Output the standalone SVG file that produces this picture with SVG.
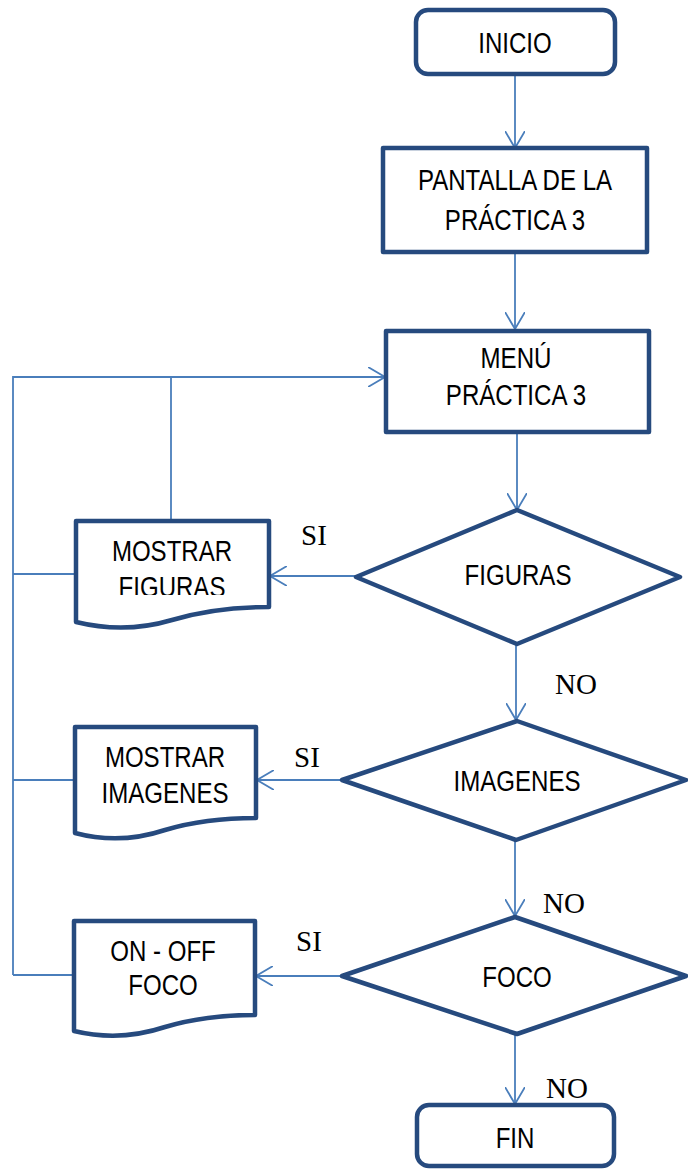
<svg xmlns="http://www.w3.org/2000/svg" width="688" height="1169" viewBox="0 0 688 1169">
  <style>
    .node { fill: #ffffff; stroke: #264a7e; stroke-width: 4.5; stroke-linejoin: round; }
    /* narrow sans: Liberation Sans squeezed horizontally */
    .lbl { font-family: "Liberation Sans", Arial, sans-serif; font-size: 29px; fill: #000000; text-anchor: middle; }
    .tag { font-family: "Liberation Serif", "Times New Roman", serif; font-size: 29px; fill: #000000; }
    .con { fill: none; stroke: #4a7ebb; stroke-width: 1.8; }
  </style>
  <defs>
    <marker id="arrow" viewBox="0 0 18 20" refX="17" refY="10" markerWidth="18" markerHeight="20" markerUnits="userSpaceOnUse" orient="auto">
      <path d="M0,0 L17,10 L0,20" fill="none" stroke="#4a7ebb" stroke-width="1.8"/>
    </marker>
    <clipPath id="clipFig">
      <rect x="76" y="521" width="193" height="74"/>
    </clipPath>
  </defs>

  <!-- connectors -->
  <g id="connectors" class="con">
    <line x1="515" y1="74" x2="515" y2="148" marker-end="url(#arrow)"/>
    <line x1="515" y1="252" x2="515" y2="329" marker-end="url(#arrow)"/>
    <line x1="517" y1="432" x2="517" y2="510" marker-end="url(#arrow)"/>
    <line x1="516" y1="644" x2="516" y2="720" marker-end="url(#arrow)"/>
    <line x1="515" y1="840" x2="515" y2="916" marker-end="url(#arrow)"/>
    <line x1="515" y1="1034" x2="515" y2="1104" marker-end="url(#arrow)"/>
    <line x1="356" y1="576" x2="270" y2="576" marker-end="url(#arrow)"/>
    <line x1="342" y1="780" x2="257" y2="780" marker-end="url(#arrow)"/>
    <line x1="342" y1="976" x2="256" y2="976" marker-end="url(#arrow)"/>
    <!-- return loop to the menu -->
    <line x1="74" y1="975" x2="13" y2="975"/>
    <line x1="75" y1="780" x2="13" y2="780"/>
    <line x1="76" y1="574" x2="13" y2="574"/>
    <line x1="171" y1="521" x2="171" y2="377"/>
    <polyline points="13,975 13,377 385,377" marker-end="url(#arrow)"/>
  </g>

  <g id="inicio">
    <rect class="node" x="416" y="10" width="199" height="64" rx="12"/>
    <text class="lbl" transform="matrix(0.83 0 0 1 515 53)">INICIO</text>
  </g>

  <g id="pantalla">
    <rect class="node" x="383" y="148" width="264" height="104"/>
    <text class="lbl" transform="matrix(0.83 0 0 1 515 190)">PANTALLA DE LA</text>
    <text class="lbl" transform="matrix(0.83 0 0 1 515 230)">PRÁCTICA 3</text>
  </g>

  <g id="menu">
    <rect class="node" x="386" y="331" width="263" height="101"/>
    <text class="lbl" transform="matrix(0.83 0 0 1 516 368)">MENÚ</text>
    <text class="lbl" transform="matrix(0.83 0 0 1 516 405)">PRÁCTICA 3</text>
  </g>

  <g id="figuras">
    <polygon class="node" points="517,510 680,577 517,644 356,577"/>
    <text class="lbl" transform="matrix(0.83 0 0 1 518 585)">FIGURAS</text>
  </g>

  <g id="mostrar-figuras">
    <path class="node" d="M76,521 H269 V607 Q215,607 172,620 Q125,634 76,622 Z"/>
    <text class="lbl" transform="matrix(0.83 0 0 1 172 561)">MOSTRAR</text>
    <g clip-path="url(#clipFig)">
      <text class="lbl" transform="matrix(0.83 0 0 1 172 597)">FIGURAS</text>
    </g>
  </g>

  <g id="imagenes">
    <polygon class="node" points="517,721 686,780 516,840 342,780"/>
    <text class="lbl" transform="matrix(0.83 0 0 1 517 791)">IMAGENES</text>
  </g>

  <g id="mostrar-imagenes">
    <path class="node" d="M75,727 H256 V818 Q205,818 165,830 Q120,845 75,833 Z"/>
    <text class="lbl" transform="matrix(0.83 0 0 1 165 767)">MOSTRAR</text>
    <text class="lbl" transform="matrix(0.83 0 0 1 165 803)">IMAGENES</text>
  </g>

  <g id="foco">
    <polygon class="node" points="515,917 686,976 517,1034 342,976"/>
    <text class="lbl" transform="matrix(0.83 0 0 1 517 987)">FOCO</text>
  </g>

  <g id="on-off-foco">
    <path class="node" d="M74,921 H255 V1015 Q205,1015 165,1027 Q120,1042 74,1031 Z"/>
    <text class="lbl" transform="matrix(0.83 0 0 1 163 961)">ON - OFF</text>
    <text class="lbl" transform="matrix(0.83 0 0 1 163 995)">FOCO</text>
  </g>

  <g id="fin">
    <rect class="node" x="417" y="1105" width="197" height="61" rx="12"/>
    <text class="lbl" transform="matrix(0.83 0 0 1 515 1148)">FIN</text>
  </g>

  <!-- branch labels -->
  <g id="labels">
    <text class="tag" x="301" y="545">SI</text>
    <text class="tag" x="555" y="694">NO</text>
    <text class="tag" x="294" y="767">SI</text>
    <text class="tag" x="543" y="913">NO</text>
    <text class="tag" x="296" y="951">SI</text>
    <text class="tag" x="546" y="1098">NO</text>
  </g>
</svg>
